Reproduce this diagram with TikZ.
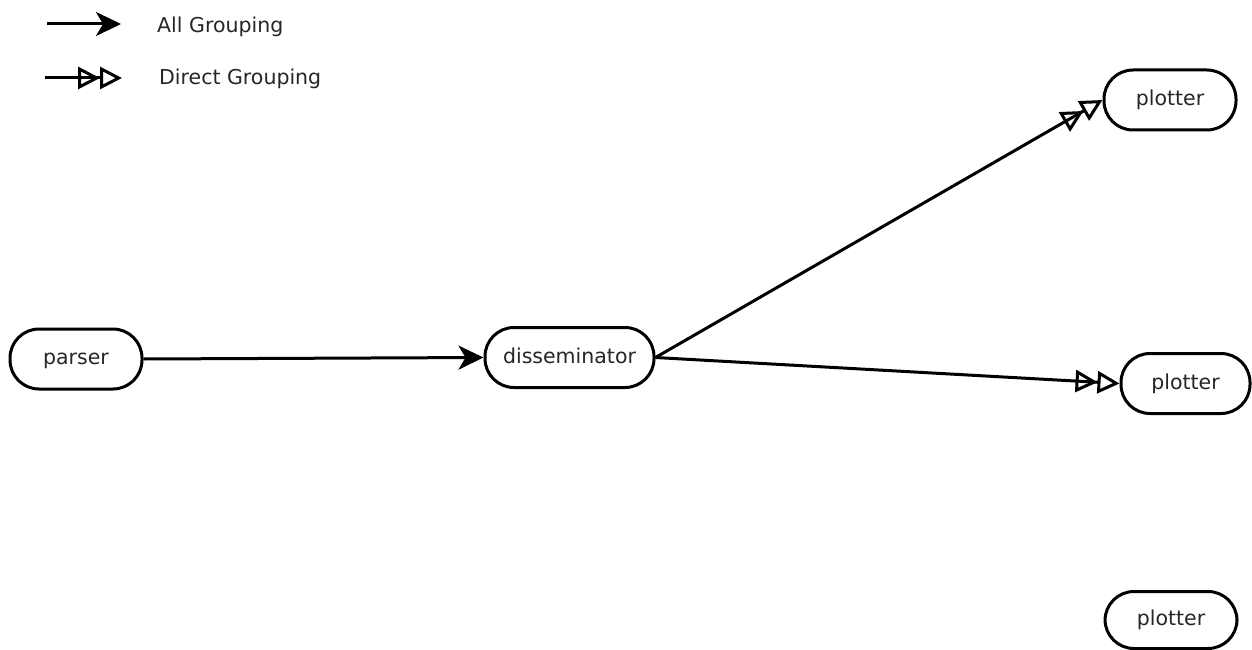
\documentclass[tikz,border=0pt]{standalone}
\usepackage{fontspec}
\setmainfont{DejaVu Sans}
\usetikzlibrary{arrows.meta}
\begin{document}
\begin{tikzpicture}[x=1pt,y=-1pt,
  proc/.style={draw=black, line width=3pt, rounded corners=29pt, minimum height=60pt, inner sep=0pt, text height=11pt, text depth=0pt, font=\fontsize{20.5}{24}\selectfont, text=black!85},
  lbl/.style={anchor=west, inner sep=0pt, text height=11pt, text depth=0pt, font=\fontsize{20.5}{24}\selectfont, text=black!85},
  allg/.style={line width=3pt, -{Stealth[length=25pt,width=24pt,inset=7pt]}},
  dirg/.style={line width=3pt, -{Triangle[open,length=22pt,width=22pt]Triangle[open,length=22pt,width=22pt]}}
]
\useasboundingbox (0,0) rectangle (1252,650);
% legend
\coordinate (l1a) at (47,24);
\coordinate (l1b) at (121,24);
\coordinate (l2a) at (45,78);
\coordinate (l2b) at (122,78);
\draw[allg] (l1a) -- (l1b);
\draw[dirg] (l2a) -- (l2b);
\node[lbl] (t1) at (157,27) {All Grouping};
\node[lbl] (t2) at (159,79) {Direct Grouping};
% nodes
\node[proc, minimum width=132pt] (parser) at (76,359) {parser};
\node[proc, minimum width=169pt] (diss) at (569.5,357.5) {disseminator};
\node[proc, minimum width=132pt] (p1) at (1170,100) {plotter};
\node[proc, minimum width=129pt] (p2) at (1185.5,383.5) {plotter};
\node[proc, minimum width=132pt, minimum height=57pt] (p3) at (1171,620) {plotter};
% edges
\draw[allg] (parser.east) -- (diss.west);
\draw[dirg] (diss.east) -- (p1.west);
\draw[dirg] (diss.east) -- (p2.west);
\end{tikzpicture}
\end{document}
